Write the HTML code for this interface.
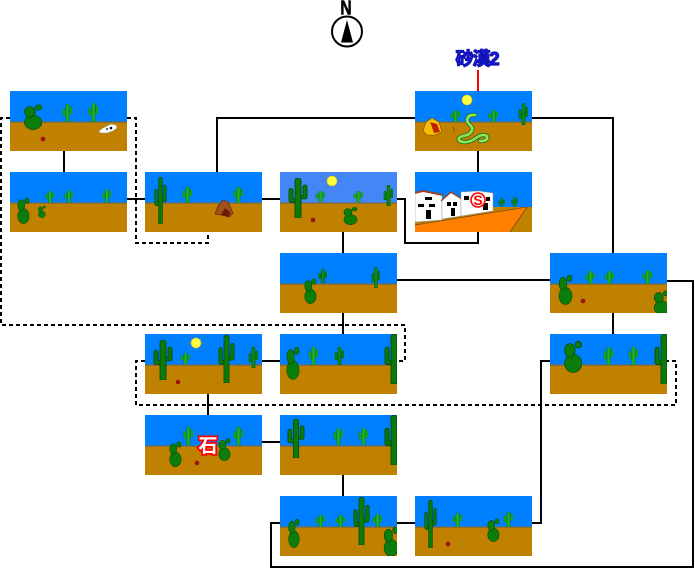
<!DOCTYPE html>
<html><head><meta charset="utf-8"><style>
html,body{margin:0;padding:0;background:#fff;}
svg{display:block;}
</style></head><body>
<svg width="695" height="569" viewBox="0 0 695 569" xmlns="http://www.w3.org/2000/svg">
<defs>
<symbol id="sc" viewBox="0 0 10 20" preserveAspectRatio="none">
 <path d="M4,1.5 a1.5,1.5 0 0 1 3,0 V20 H4 Z M1,6 a1,1 0 0 1 2,0 V11 H4 V13 H1 Z M7,9 H8 V4 a1,1 0 0 1 2,0 V11 H7 Z" fill="#22b522" stroke="#0a7a0a" stroke-width="0.6"/>
</symbol>
<symbol id="sc2" viewBox="0 0 10 20" preserveAspectRatio="none">
 <path d="M4,1.5 a1.5,1.5 0 0 1 3,0 V20 H4 Z M1,7 a1,1 0 0 1 2,0 V12 H4 V14 H1 Z M7,10 H8 V5 a1,1 0 0 1 2,0 V12 H7 Z" fill="#0e8e0e" stroke="#055505" stroke-width="0.6"/>
</symbol>
<symbol id="sg" viewBox="0 0 20 46" preserveAspectRatio="none">
 <path d="M7,3 a3,3 0 0 1 6,0 V46 H7 Z M1,14 a2,2 0 0 1 4,0 V24 H7 V28 H3 a2,2 0 0 1 -2,-2 Z M15,10 a2,2 0 0 1 4,0 V22 a2,2 0 0 1 -2,2 H13 V20 H15 Z" fill="#0a7a0a" stroke="#034503" stroke-width="0.8"/>
</symbol>
<symbol id="pp" viewBox="0 0 16 30" preserveAspectRatio="none">
 <ellipse cx="8.5" cy="21.5" rx="6.5" ry="8" fill="#0b7d0b" stroke="#064806" stroke-width="0.6"/>
 <ellipse cx="6" cy="10" rx="4" ry="6" fill="#0b7d0b" stroke="#064806" stroke-width="0.6"/>
 <ellipse cx="12.5" cy="5" rx="2.5" ry="3" fill="#0b7d0b" stroke="#064806" stroke-width="0.6"/>
</symbol>
<symbol id="sun" viewBox="0 0 20 20">
 <g stroke="#5a78c8" stroke-width="0.6">
  <line x1="10" y1="0" x2="10" y2="4"/><line x1="10" y1="16" x2="10" y2="20"/>
  <line x1="0" y1="10" x2="4" y2="10"/><line x1="16" y1="10" x2="20" y2="10"/>
  <line x1="3" y1="3" x2="5.5" y2="5.5"/><line x1="17" y1="17" x2="14.5" y2="14.5"/>
  <line x1="17" y1="3" x2="14.5" y2="5.5"/><line x1="3" y1="17" x2="5.5" y2="14.5"/>
 </g>
 <circle cx="10" cy="10" r="5" fill="#ffff40" stroke="#e0c000" stroke-width="0.6"/>
</symbol>
<symbol id="bg" viewBox="0 0 117 60">
 <rect width="117" height="31" fill="#0080ff"/>
 <rect y="31" width="117" height="29" fill="#c08000"/>
 <rect y="30.5" width="117" height="1.2" fill="#7a6a3a"/>
</symbol>
<symbol id="bg2" viewBox="0 0 117 60">
 <rect width="117" height="31" fill="#4287f5"/>
 <rect y="31" width="117" height="29" fill="#c08000"/>
 <rect y="30.5" width="117" height="1.2" fill="#7a6a3a"/>
</symbol>
</defs>

<!-- solid connectors -->
<g fill="none" stroke="#000" stroke-width="2">
 <path d="M64,151 V172"/>
 <path d="M127,199 H145"/>
 <path d="M217,172 V118 H415"/>
 <path d="M532,118 H613 V253"/>
 <path d="M262,199 H280"/>
 <path d="M397,199 H405 V243 H478 V232"/>
 <path d="M478,151 V172"/>
 <path d="M343,232 V253"/>
 <path d="M397,280 H550"/>
 <path d="M667,281 H693 V567 H271 V523 H280"/>
 <path d="M613,313 V334"/>
 <path d="M550,361 H541 V523 H532"/>
 <path d="M343,313 V334"/>
 <path d="M262,361 H280"/>
 <path d="M208,394 V415"/>
 <path d="M262,442 H280"/>
 <path d="M343,475 V496"/>
 <path d="M397,523 H415"/>
</g>
<path d="M478,70 V91" stroke="#ff0000" stroke-width="2"/>
<!-- dashed connectors -->
<g fill="none" stroke="#000" stroke-width="2" stroke-dasharray="4 3">
 <path d="M10,118 H1 V325 H405 V361 H397"/>
 <path d="M127,118 H136 V243 H208 V232"/>
 <path d="M145,361 H136 V405 H676 V361 H667"/>
</g>

<!-- compass -->
<text x="346" y="14.5" font-family="Liberation Sans, sans-serif" font-weight="bold" font-size="20" text-anchor="middle" stroke="#000" stroke-width="0.6" transform="translate(346 0) scale(0.78 1) translate(-346 0)">N</text>
<circle cx="347" cy="31.5" r="15" fill="#fff" stroke="#000" stroke-width="2"/>
<polygon points="347,20 341,42.5 353,42.5" fill="#000"/>

<!-- label -->
<text x="477" y="65" font-family="Liberation Sans, 'Noto Sans CJK JP', sans-serif" font-weight="bold" font-size="18" text-anchor="middle" fill="#1e1ef0" stroke="#1010b0" stroke-width="1.3" letter-spacing="-1">砂漠2</text>

<!-- Tile A -->
<svg x="10" y="91" width="117" height="60" viewBox="0 0 117 60">
 <use href="#bg" width="117" height="60"/>
 <use href="#pp" x="12" y="12" width="21" height="27"/>
 <use href="#sc" x="52" y="13" width="10" height="18"/>
 <use href="#sc" x="78" y="12" width="10" height="19"/>
 <path d="M89,40 L93,37 L97,35 L101,33 L106,34 L107,37 L103,40 L97,42 L90,42 Z" fill="#fff" stroke="#888" stroke-width="0.5"/>
 <circle cx="101" cy="37" r="1.3" fill="#000"/><circle cx="97" cy="38" r="0.9" fill="#000"/>
 <circle cx="33" cy="48" r="2.3" fill="#a01010"/>
</svg>

<!-- Tile B -->
<svg x="10" y="172" width="117" height="60" viewBox="0 0 117 60">
 <use href="#bg" width="117" height="60"/>
 <use href="#pp" x="6" y="24" width="14" height="28"/>
 <use href="#pp" x="27" y="33" width="9" height="13"/>
 <use href="#sc" x="35" y="19" width="9" height="12"/>
 <use href="#sc" x="54" y="18" width="9" height="13"/>
 <use href="#sc" x="92" y="17" width="9" height="14"/>
</svg>

<!-- Tile C -->
<svg x="145" y="172" width="117" height="60" viewBox="0 0 117 60">
 <use href="#bg" width="117" height="60"/>
 <use href="#sg" x="9" y="5" width="13" height="47"/>
 <use href="#sc" x="37" y="15" width="10" height="16"/>
 <use href="#sc" x="88" y="15" width="10" height="16"/>
 <polygon points="70,42 73,34 78,28 83,30 88,41 84,45 76,43" fill="#a0501a" stroke="#5a2008" stroke-width="0.6"/>
 <polygon points="76,43 80,36 85,40 84,45" fill="#6a1a08"/>
</svg>

<!-- Tile D -->
<svg x="280" y="172" width="117" height="60" viewBox="0 0 117 60">
 <use href="#bg2" width="117" height="60"/>
 <use href="#sun" x="42" y="-1" width="20" height="20"/>
 <use href="#sg" x="8" y="6" width="20" height="40"/>
 <use href="#sc" x="35" y="19" width="10" height="11"/>
 <use href="#sc" x="73" y="19" width="10" height="11"/>
 <use href="#sc2" x="103" y="13" width="10" height="21"/>
 <circle cx="33" cy="48" r="2.3" fill="#a01010"/>
 <use href="#pp" x="62" y="34" width="16" height="19"/>
</svg>

<!-- Tile E -->
<svg x="415" y="91" width="117" height="60" viewBox="0 0 117 60">
 <use href="#bg" width="117" height="60"/>
 <use href="#sun" x="42" y="-1" width="20" height="20"/>
 <use href="#sc" x="35" y="19" width="10" height="12"/>
 <use href="#sc" x="73" y="19" width="10" height="12"/>
 <use href="#sc2" x="103" y="12" width="10" height="22"/>
 <polygon points="8,40 11,31 17,27 24,31 27,41 20,44 12,44" fill="#f0c000" stroke="#8a4000" stroke-width="0.6"/>
 <polygon points="15,31 22,33 25,41 19,42 17,36" fill="#c02000"/>
 <path d="M60,24 C52,23 50,30 55,34 C60,38 56,44 48,45 C40,47 44,52 52,51 C60,50 62,44 68,44 C75,44 73,51 65,50" fill="none" stroke="#207020" stroke-width="4.2" stroke-linecap="round"/>
 <path d="M60,24 C52,23 50,30 55,34 C60,38 56,44 48,45 C40,47 44,52 52,51 C60,50 62,44 68,44 C75,44 73,51 65,50" fill="none" stroke="#90e858" stroke-width="2.6" stroke-linecap="round"/>
 <path d="M40,41 L38,36" stroke="#8a6020" stroke-width="1.2"/>
</svg>

<!-- Tile F town -->
<svg x="415" y="172" width="117" height="60" viewBox="0 0 117 60">
 <rect width="117" height="60" fill="#0080ff"/>
 <rect y="35" width="117" height="25" fill="#c08000"/>
 <polygon points="0,53 112,35 95,60 0,60" fill="#ff8000"/>
 <path d="M0,53 L112,35 L95,60" fill="none" stroke="#7a4a10" stroke-width="0.8"/>
 <polygon points="0,21 8,19 27,23 27,48 0,50" fill="#fff" stroke="#999" stroke-width="0.5"/>
 <polygon points="0,20 8,18 28,22 28,24 8,20 0,22" fill="#a04020"/>
 <rect x="10" y="25" width="7" height="3" fill="#000"/>
 <rect x="3" y="32" width="6" height="3" fill="#000"/><rect x="14" y="32" width="6" height="3" fill="#000"/>
 <rect x="11" y="38" width="5" height="9" fill="#000"/>
 <polygon points="27,28 36,21 46,27 46,44 27,47" fill="#fff" stroke="#999" stroke-width="0.5"/>
 <path d="M26,29 L36,20 L47,27" fill="none" stroke="#a04020" stroke-width="1.2"/>
 <rect x="32" y="30" width="4" height="4" fill="#000"/><rect x="38" y="30" width="4" height="4" fill="#000"/>
 <rect x="36" y="36" width="4" height="8" fill="#000"/>
 <polygon points="46,20 64,19 78,21 78,39 46,44" fill="#fff" stroke="#999" stroke-width="0.5"/>
 <rect x="49" y="24" width="5" height="4" fill="#000"/><rect x="71" y="25" width="4" height="4" fill="#000"/>
 <rect x="68" y="31" width="5" height="7" fill="#000"/>
 <circle cx="63" cy="28" r="7" fill="#fff" stroke="#ff0000" stroke-width="1.6"/>
 <text x="63" y="33" font-family="Liberation Sans, sans-serif" font-weight="bold" font-size="14" text-anchor="middle" fill="#ff0000">S</text>
 <use href="#sc2" x="83" y="26" width="7" height="9"/>
 <use href="#sc2" x="96" y="25" width="7" height="10"/>
</svg>

<!-- Tile G -->
<svg x="280" y="253" width="117" height="60" viewBox="0 0 117 60">
 <use href="#bg" width="117" height="60"/>
 <use href="#pp" x="23" y="24" width="14" height="27"/>
 <use href="#sc2" x="38" y="16" width="9" height="14"/>
 <use href="#sc2" x="91" y="14" width="9" height="21"/>
</svg>

<!-- Tile H -->
<svg x="550" y="253" width="117" height="60" viewBox="0 0 117 60">
 <use href="#bg" width="117" height="60"/>
 <use href="#pp" x="7" y="20" width="16" height="32"/>
 <use href="#sc" x="35" y="18" width="10" height="13"/>
 <use href="#sc" x="54" y="18" width="10" height="13"/>
 <use href="#sc" x="92" y="17" width="10" height="14"/>
 <circle cx="33" cy="48" r="2.3" fill="#a01010"/>
 <use href="#pp" x="102" y="36" width="18" height="26"/>
</svg>

<!-- Tile I -->
<svg x="550" y="334" width="117" height="60" viewBox="0 0 117 60">
 <use href="#bg" width="117" height="60"/>
 <use href="#pp" x="12" y="5" width="21" height="34"/>
 <use href="#sc" x="53" y="13" width="10" height="18"/>
 <use href="#sc" x="78" y="13" width="10" height="18"/>
 <use href="#sg" x="104" y="0" width="20" height="50"/>
</svg>

<!-- Tile J -->
<svg x="145" y="334" width="117" height="60" viewBox="0 0 117 60">
 <use href="#bg" width="117" height="60"/>
 <use href="#sun" x="41" y="-1" width="20" height="20"/>
 <use href="#sg" x="8" y="6" width="20" height="40"/>
 <use href="#sc" x="35" y="19" width="10" height="11"/>
 <use href="#sg" x="73" y="1" width="17" height="48"/>
 <use href="#sc2" x="103" y="13" width="10" height="21"/>
 <circle cx="33" cy="48" r="2.3" fill="#a01010"/>
</svg>

<!-- Tile K -->
<svg x="280" y="334" width="117" height="60" viewBox="0 0 117 60">
 <use href="#bg" width="117" height="60"/>
 <use href="#pp" x="5" y="11" width="15" height="35"/>
 <use href="#sc" x="28" y="13" width="10" height="18"/>
 <use href="#sc2" x="54" y="13" width="10" height="18"/>
 <use href="#sg" x="104" y="0" width="20" height="50"/>
</svg>

<!-- Tile L -->
<svg x="145" y="415" width="117" height="60" viewBox="0 0 117 60">
 <use href="#bg" width="117" height="60"/>
 <use href="#pp" x="23" y="25" width="14" height="27"/>
 <use href="#sc" x="38" y="12" width="10" height="18"/>
 <use href="#sc" x="88" y="12" width="10" height="18"/>
 <use href="#pp" x="72" y="22" width="14" height="24"/>
 <circle cx="52" cy="48" r="2.3" fill="#a01010"/>
 <text x="63" y="37" font-family="Liberation Sans, 'Noto Sans CJK JP', sans-serif" font-weight="bold" font-size="19" text-anchor="middle" fill="#fff" stroke="#ff0000" stroke-width="3.5" paint-order="stroke">石</text>
</svg>

<!-- Tile M -->
<svg x="280" y="415" width="117" height="60" viewBox="0 0 117 60">
 <use href="#bg" width="117" height="60"/>
 <use href="#sg" x="7" y="4" width="18" height="39"/>
 <use href="#sc" x="53" y="13" width="10" height="17"/>
 <use href="#sc" x="78" y="13" width="10" height="17"/>
 <use href="#sg" x="104" y="0" width="20" height="50"/>
</svg>

<!-- Tile N -->
<svg x="280" y="496" width="117" height="60" viewBox="0 0 117 60">
 <use href="#bg" width="117" height="60"/>
 <use href="#pp" x="7" y="21" width="13" height="31"/>
 <use href="#sc" x="35" y="19" width="10" height="12"/>
 <use href="#sc" x="55" y="19" width="10" height="12"/>
 <use href="#sg" x="73" y="1" width="17" height="48"/>
 <use href="#sc" x="92" y="18" width="10" height="13"/>
 <use href="#pp" x="102" y="29" width="17" height="32"/>
</svg>

<!-- Tile O -->
<svg x="415" y="496" width="117" height="60" viewBox="0 0 117 60">
 <use href="#bg" width="117" height="60"/>
 <use href="#sg" x="9" y="4" width="13" height="48"/>
 <use href="#sc" x="37" y="17" width="10" height="14"/>
 <use href="#pp" x="71" y="21" width="14" height="25"/>
 <use href="#sc" x="88" y="16" width="10" height="15"/>
 <circle cx="33" cy="48" r="2.3" fill="#a01010"/>
</svg>
</svg>
</body></html>
